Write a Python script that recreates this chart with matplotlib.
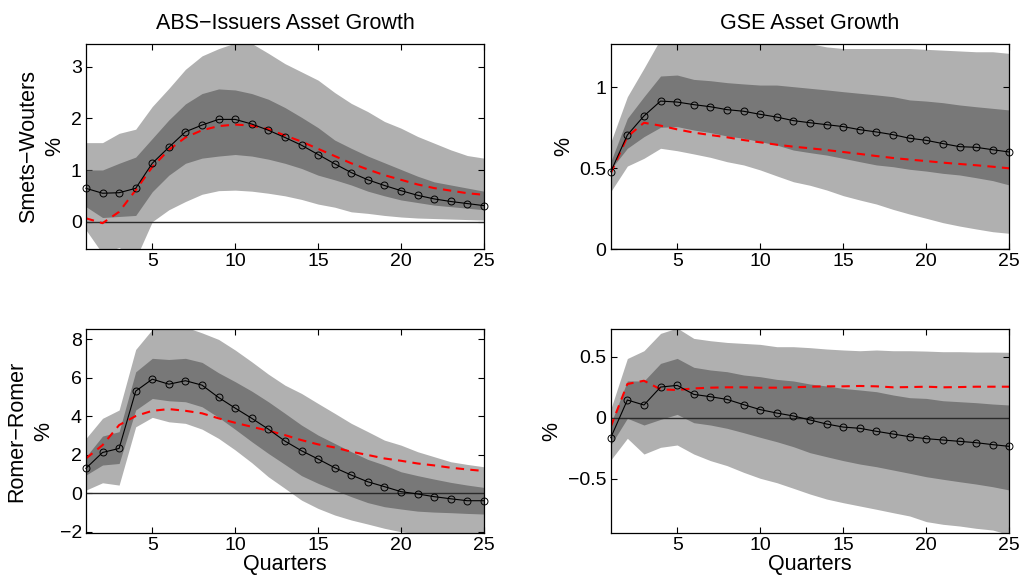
import numpy as np
import matplotlib
matplotlib.use('Agg')
import matplotlib.pyplot as plt
from matplotlib.ticker import FuncFormatter

plt.rcParams['font.family'] = ['Liberation Sans', 'DejaVu Sans']

#-------------------------------------------------------------------------
# impulse responses over 25 quarters: point estimate, alternative model,
# 68% and 90% bands
quarters = np.arange(1, 26)

# ABS issuers, Smets-Wouters shock
abs_sw_mid = [0.645, 0.55, 0.56, 0.645, 1.13, 1.44, 1.74, 1.87, 1.98, 1.98,
              1.89, 1.77, 1.63, 1.48, 1.30, 1.12, 0.95, 0.81, 0.70, 0.60,
              0.51, 0.44, 0.39, 0.35, 0.31]
abs_sw_alt = [0.065, -0.03, 0.19, 0.61, 1.06, 1.39, 1.63, 1.77, 1.85, 1.88,
              1.86, 1.79, 1.67, 1.55, 1.41, 1.27, 1.13, 1.01, 0.90, 0.81,
              0.72, 0.65, 0.60, 0.55, 0.52]
abs_sw_hi90 = [1.53, 1.53, 1.71, 1.79, 2.23, 2.58, 2.95, 3.21, 3.35, 3.46,
               3.45, 3.26, 3.06, 2.90, 2.74, 2.50, 2.29, 2.13, 1.94, 1.81,
               1.65, 1.52, 1.39, 1.28, 1.23]
abs_sw_lo90 = [-0.16, -0.62, -0.50, -0.72, 0.0, 0.23, 0.39, 0.53, 0.60, 0.61,
               0.59, 0.55, 0.50, 0.43, 0.34, 0.28, 0.19, 0.16, 0.12, 0.09,
               0.07, 0.06, 0.05, 0.04, 0.03]
abs_sw_hi68 = [1.0, 1.0, 1.13, 1.25, 1.61, 1.97, 2.28, 2.48, 2.57, 2.55,
               2.48, 2.37, 2.21, 2.02, 1.82, 1.58, 1.42, 1.27, 1.14, 1.01,
               0.88, 0.77, 0.71, 0.65, 0.59]
abs_sw_lo68 = [0.29, 0.08, 0.10, 0.12, 0.58, 0.90, 1.13, 1.23, 1.27, 1.30,
               1.27, 1.21, 1.13, 1.03, 0.90, 0.81, 0.71, 0.59, 0.50, 0.42,
               0.37, 0.32, 0.29, 0.26, 0.23]

# GSE, Smets-Wouters shock
gse_sw_mid = [0.478, 0.705, 0.823, 0.915, 0.909, 0.893, 0.880, 0.862, 0.852, 0.833,
              0.816, 0.794, 0.781, 0.769, 0.757, 0.738, 0.724, 0.707, 0.685, 0.672,
              0.652, 0.633, 0.629, 0.614, 0.600]
gse_sw_alt = [0.468, 0.695, 0.781, 0.763, 0.740, 0.720, 0.705, 0.691, 0.674, 0.660,
              0.645, 0.633, 0.623, 0.612, 0.600, 0.588, 0.575, 0.563, 0.553, 0.544,
              0.534, 0.526, 0.518, 0.509, 0.499]
gse_sw_hi90 = [0.66, 0.942, 1.118, 1.30, 1.33, 1.33, 1.32, 1.31, 1.30, 1.30,
               1.29, 1.28, 1.27, 1.25, 1.24, 1.24, 1.24, 1.24, 1.24, 1.235,
               1.23, 1.225, 1.22, 1.22, 1.21]
gse_sw_lo90 = [0.355, 0.513, 0.561, 0.623, 0.608, 0.588, 0.567, 0.540, 0.520, 0.489,
               0.452, 0.416, 0.394, 0.365, 0.330, 0.303, 0.278, 0.245, 0.216, 0.190,
               0.163, 0.142, 0.124, 0.107, 0.097]
gse_sw_hi68 = [0.54, 0.808, 0.942, 1.07, 1.076, 1.049, 1.041, 1.029, 1.021, 1.014,
               1.014, 1.004, 0.994, 0.984, 0.973, 0.963, 0.953, 0.942, 0.922, 0.915,
               0.905, 0.891, 0.880, 0.870, 0.860]
gse_sw_lo68 = [0.493, 0.623, 0.695, 0.753, 0.757, 0.736, 0.720, 0.699, 0.685, 0.664,
               0.643, 0.612, 0.596, 0.581, 0.561, 0.540, 0.520, 0.509, 0.493, 0.482,
               0.468, 0.458, 0.441, 0.423, 0.396]

# ABS issuers, Romer-Romer shock
abs_rr_mid = [1.30, 2.12, 2.33, 5.30, 5.92, 5.66, 5.84, 5.61, 4.97, 4.42,
              3.89, 3.33, 2.71, 2.21, 1.78, 1.33, 0.95, 0.60, 0.35, 0.09,
              -0.03, -0.17, -0.28, -0.38, -0.38]
abs_rr_alt = [1.81, 2.50, 3.54, 4.01, 4.28, 4.37, 4.28, 4.15, 3.89, 3.66,
              3.45, 3.25, 3.02, 2.76, 2.54, 2.38, 2.16, 1.99, 1.81, 1.69,
              1.55, 1.45, 1.33, 1.24, 1.16]
abs_rr_hi90 = [2.85, 3.89, 4.32, 7.46, 8.50, 8.65, 8.62, 8.32, 7.98, 7.43,
               6.82, 6.18, 5.61, 5.18, 4.66, 4.15, 3.63, 3.20, 2.76, 2.50,
               2.16, 1.90, 1.64, 1.50, 1.38]
abs_rr_lo90 = [0.17, 0.55, 0.43, 3.45, 3.94, 3.71, 3.63, 3.33, 2.85, 2.25,
               1.59, 0.86, 0.26, -0.35, -0.78, -1.12, -1.38, -1.59, -1.81, -1.99,
               -2.10, -2.15, -2.20, -2.25, -2.30]
abs_rr_hi68 = [1.90, 2.97, 3.20, 6.30, 7.00, 6.94, 7.00, 6.79, 6.25, 5.79,
               5.30, 4.75, 4.15, 3.54, 3.02, 2.59, 2.16, 1.76, 1.47, 1.12,
               0.92, 0.74, 0.57, 0.43, 0.31]
abs_rr_lo68 = [0.95, 1.47, 1.55, 4.32, 4.92, 4.80, 4.75, 4.49, 3.94, 3.32,
               2.68, 2.07, 1.50, 0.92, 0.52, 0.17, -0.17, -0.48, -0.69, -0.81,
               -0.92, -0.97, -1.00, -1.04, -1.07]

# GSE, Romer-Romer shock
gse_rr_mid = [-0.164, 0.145, 0.104, 0.251, 0.265, 0.191, 0.172, 0.150, 0.107, 0.066,
              0.038, 0.014, -0.019, -0.052, -0.077, -0.087, -0.112, -0.134, -0.156, -0.172,
              -0.183, -0.194, -0.205, -0.221, -0.235]
gse_rr_alt = [-0.074, 0.276, 0.303, 0.232, 0.227, 0.240, 0.246, 0.249, 0.249, 0.246,
              0.246, 0.249, 0.254, 0.257, 0.257, 0.260, 0.257, 0.249, 0.251, 0.254,
              0.249, 0.251, 0.254, 0.254, 0.254]
gse_rr_hi90 = [0.07, 0.485, 0.549, 0.691, 0.735, 0.650, 0.631, 0.617, 0.609, 0.601,
               0.582, 0.582, 0.574, 0.563, 0.555, 0.549, 0.555, 0.549, 0.549, 0.546,
               0.541, 0.541, 0.538, 0.538, 0.536]
gse_rr_lo90 = [-0.347, -0.169, -0.298, -0.243, -0.224, -0.298, -0.352, -0.393, -0.448, -0.497,
               -0.533, -0.579, -0.626, -0.667, -0.697, -0.724, -0.751, -0.779, -0.806, -0.852,
               -0.874, -0.888, -0.907, -0.921, -0.96]
gse_rr_hi68 = [-0.05, 0.301, 0.301, 0.445, 0.486, 0.413, 0.391, 0.377, 0.350, 0.336,
               0.314, 0.301, 0.276, 0.260, 0.240, 0.227, 0.213, 0.186, 0.164, 0.158,
               0.139, 0.131, 0.123, 0.112, 0.104]
gse_rr_lo68 = [-0.224, -0.005, -0.060, -0.014, 0.027, -0.041, -0.060, -0.087, -0.123, -0.161,
               -0.197, -0.238, -0.287, -0.320, -0.352, -0.380, -0.402, -0.429, -0.456, -0.484,
               -0.505, -0.525, -0.544, -0.566, -0.593]

col_titles = ['ABS\u2212Issuers Asset Growth', 'GSE Asset Growth']
row_labels = ['Smets\u2212Wouters', 'Romer\u2212Romer']

#-------------------------------------------------------------------------
light = '#b0b0b0'
dark = '#787878'
fs_tick = 14
fs_lab = 15.5

panels = [
  dict(pos=[0.0841, 0.5677, 0.3894, 0.3559], ylim=(-0.53, 3.44), yticks=[0, 1, 2, 3],
       data=(abs_sw_mid, abs_sw_alt, abs_sw_hi90, abs_sw_lo90, abs_sw_hi68, abs_sw_lo68)),
  dict(pos=[0.5976, 0.5677, 0.3900, 0.3559], ylim=(0.0, 1.268), yticks=[0, 0.5, 1],
       data=(gse_sw_mid, gse_sw_alt, gse_sw_hi90, gse_sw_lo90, gse_sw_hi68, gse_sw_lo68)),
  dict(pos=[0.0841, 0.0741, 0.3894, 0.3547], ylim=(-2.07, 8.52), yticks=[-2, 0, 2, 4, 6, 8],
       data=(abs_rr_mid, abs_rr_alt, abs_rr_hi90, abs_rr_lo90, abs_rr_hi68, abs_rr_lo68)),
  dict(pos=[0.5976, 0.0741, 0.3900, 0.3547], ylim=(-0.948, 0.727), yticks=[-0.5, 0, 0.5],
       data=(gse_rr_mid, gse_rr_alt, gse_rr_hi90, gse_rr_lo90, gse_rr_hi68, gse_rr_lo68)),
]

def fmt_tick(v, pos):
  return ('%g' % v).replace('-', '\u2212')

fig = plt.figure(figsize=(10.22, 5.76), dpi=100)

for n, p in enumerate(panels):
  ax = fig.add_axes(p['pos'])
  mid, alt, hi90, lo90, hi68, lo68 = p['data']

  ax.fill_between(quarters, lo90, hi90, color=light, lw=0, zorder=1)
  ax.fill_between(quarters, lo68, hi68, color=dark, lw=0, zorder=2)
  ax.axhline(0, color='#2a2a2a', lw=1.0, zorder=3)
  ax.plot(quarters, alt, color='red', ls='--', lw=1.5, dashes=(4, 3), zorder=4)
  ax.plot(quarters, mid, color='k', lw=0.8, marker='o', ms=5, mfc='none',
          mec='k', mew=0.7, zorder=5, clip_on=False)

  ax.set_xlim(1, 25)
  ax.set_ylim(*p['ylim'])
  ax.set_xticks([5, 10, 15, 20, 25])
  ax.set_yticks(p['yticks'])
  ax.xaxis.set_major_formatter(FuncFormatter(fmt_tick))
  ax.yaxis.set_major_formatter(FuncFormatter(fmt_tick))
  ax.tick_params(direction='in', top=True, right=True, labelsize=fs_tick,
                 length=4, width=0.8, pad=3)
  for s in ax.spines.values():
    s.set_linewidth(0.9)
    s.set_zorder(6)

  row, col = divmod(n, 2)
  if row == 0:
    ax.set_title(col_titles[col], fontsize=fs_lab, pad=11)
  else:
    ax.set_xlabel('Quarters', fontsize=fs_lab, labelpad=0)
  if col == 0:
    ax.set_ylabel('%s\n%%' % row_labels[row], fontsize=fs_lab, linespacing=1.35)
  else:
    ax.set_ylabel('%', fontsize=fs_lab)

fig.savefig('out.png', dpi=100)
